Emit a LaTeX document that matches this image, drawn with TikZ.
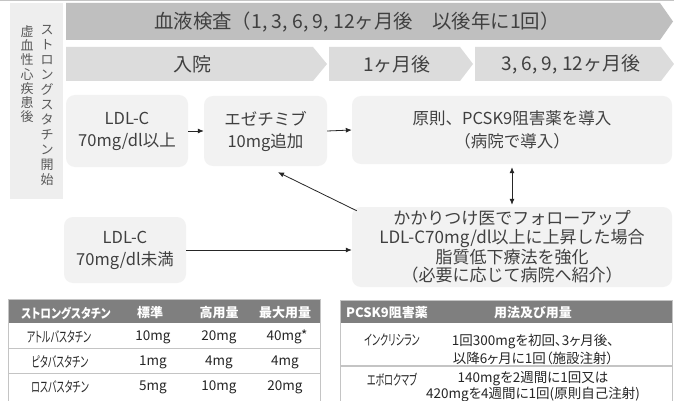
\documentclass[tikz,border=0pt]{standalone}
\usepackage{fontspec}
\setmainfont{Noto Sans CJK JP}
\newfontfamily\tbfont[RawFeature=+palt]{Noto Sans CJK JP}
\newfontfamily\narrowfont[RawFeature=+palt,FakeStretch=0.62]{Noto Sans CJK JP}
\newfontfamily\hnarrowfont[RawFeature=+palt,FakeStretch=0.82]{Noto Sans CJK JP}
\usetikzlibrary{arrows.meta}
\definecolor{txt}{HTML}{404040}
\definecolor{vtxt}{HTML}{595959}
\definecolor{chevdark}{HTML}{BFBFBF}
\definecolor{chevlight}{HTML}{DCDCDC}
\definecolor{boxgray}{HTML}{F2F2F2}
\definecolor{sidegray}{HTML}{EEEEEE}
\definecolor{hdrgray}{HTML}{7F7F7F}
\definecolor{linegray}{HTML}{C4C4C4}
\definecolor{tbtxt}{HTML}{262626}
\tikzset{
  box/.style={fill=boxgray, rounded corners=9pt, text=txt, align=center, inner sep=0pt,
    font=\fontsize{16.5}{22}\selectfont},
  arr/.style={-{Latex[length=6pt,width=5pt]}, line width=0.8pt, draw=black!85},
  dblarr/.style={{Latex[length=6pt,width=5pt]}-{Latex[length=6pt,width=5pt]}, line width=0.8pt, draw=black!85},
  chevtext/.style={text=txt, font=\fontsize{19}{22}\selectfont, inner sep=0pt},
  vtext/.style={text=vtxt, align=center, inner sep=0pt, anchor=north},
  hdr/.style={text=white, font=\tbfont\bfseries\fontsize{13}{16}\selectfont, inner sep=0pt},
  cell/.style={text=tbtxt, font=\tbfont\fontsize{13.5}{16}\selectfont, inner sep=0pt, align=center},
  kcell/.style={text=tbtxt, font=\narrowfont\fontsize{14.5}{16}\selectfont, inner sep=0pt},
  tline/.style={draw=linegray, line width=1.4pt}
}
\begin{document}
\begin{tikzpicture}[x=1pt,y=-1pt]
\useasboundingbox (0,0) rectangle (674,401);
\clip (0,0) rectangle (674,401);
\fill[white] (0,0) rectangle (674,401);
\draw[draw=linegray, line width=1pt] (0,0.5) -- (674,0.5);

% left side box
\fill[sidegray] (10,3) rectangle (63,199);
\node[vtext, font=\fontsize{13}{15}\selectfont] (v1) at (47,25) {ス\\ト\\ロ\\ン\\グ\\ス\\タ\\チ\\ン\\開\\始};
\node[vtext, font=\fontsize{13}{14.3}\selectfont] (v2) at (27,25) {虚\\血\\性\\心\\疾\\患\\後};

% top chevron
\fill[chevdark] (66,3) -- (660,3) -- (673,21.5) -- (660,40) -- (66,40) -- cycle;
\node[text=txt, font=\fontsize{19.4}{22}\selectfont, inner sep=0pt] (title) at (357,22) {血液検査（1, 3, 6, 9, 12ヶ月後　以後年に1回）};

% second row chevrons
\fill[chevlight] (66,47) -- (313,47) -- (327,64) -- (313,81) -- (66,81) -- cycle;
\fill[chevlight] (329,47) -- (460,47) -- (473,64) -- (460,81) -- (329,81) -- cycle;
\fill[chevlight] (475,47) -- (661,47) -- (674,64) -- (661,81) -- (475,81) -- cycle;
\node[chevtext] (c1) at (192,64) {入院};
\node[chevtext] (c2) at (397,64) {1ヶ月後};
\node[chevtext] (c3) at (571,64) {3, 6, 9, 12ヶ月後};

% boxes
\node[box, minimum width=122pt, minimum height=72pt] (A) at (127,131) {LDL-C\\70mg/dl以上};
\node[box, minimum width=123pt, minimum height=70pt] (B) at (265.5,131) {エゼチミブ\\10mg追加};
\node[box, minimum width=320pt, minimum height=68pt, font=\fontsize{16.5}{23}\selectfont] (C) at (512,130) {原則、PCSK9阻害薬を導入\\（病院で導入）};
\node[box, minimum width=320pt, minimum height=80pt, font=\fontsize{17}{18.5}\selectfont] (D) at (512,247) {かかりつけ医でフォローアップ\\LDL-C70mg/dl以上に上昇した場合\\脂質低下療法を強化\\（必要に応じて病院へ紹介）};
\node[box, minimum width=122pt, minimum height=66pt] (E) at (125,250) {LDL-C\\70mg/dl未満};

% connectors
\draw[arr] (A.east) -- (B.west);
\draw[arr] (B.east) -- (C.west);
\draw[dblarr] ([yshift=-3pt]C.south) -- ([yshift=2pt]D.north);
\draw[arr] ([xshift=5pt,yshift=-4pt]D.north west) -- ([xshift=12.5pt,yshift=-6pt]B.south);
\draw[arr] (E.east) -- (E.east -| D.west);

% left table
\fill[hdrgray] (8,300) rectangle (320,323);
\draw[draw=linegray, line width=1pt] (8,299) rectangle (320,420);
\draw[tline] (8,348.5) -- (320,348.5);
\draw[tline] (8,373.5) -- (320,373.5);
\node[hdr, font=\hnarrowfont\bfseries\fontsize{13}{16}\selectfont] (h1) at (66,313) {ストロングスタチン};
\node[hdr] (h2) at (150,313) {標準};
\node[hdr] (h3) at (219,313) {高用量};
\node[hdr] (h4) at (285,313) {最大用量};
\node[kcell] (r11) at (59,337) {アトルバスタチン};
\node[cell] (r12) at (153,337) {10mg};
\node[cell] (r13) at (219,337) {20mg};
\node[cell] (r14) at (287,337) {40mg*};
\node[kcell] (r21) at (60,362) {ピタバスタチン};
\node[cell] (r22) at (153,362) {1mg};
\node[cell] (r23) at (219,362) {4mg};
\node[cell] (r24) at (285,362) {4mg};
\node[kcell] (r31) at (60,387) {ロスバスタチン};
\node[cell] (r32) at (153,387) {5mg};
\node[cell] (r33) at (219,387) {10mg};
\node[cell] (r34) at (285,387) {20mg};

% right table
\fill[hdrgray] (340,301) rectangle (672,323);
\draw[draw=linegray, line width=1pt] (340,300) rectangle (672,420);
\draw[tline] (340,366) -- (672,366);
\node[hdr] (p1) at (387,313) {PCSK9阻害薬};
\node[hdr] (p2) at (533,313) {用法及び用量};
\node[kcell] (q11) at (392,340) {インクリシラン};
\node[cell, font=\tbfont\fontsize{13.5}{18}\selectfont] (q12) at (533,349) {1回300mgを初回、3ヶ月後、\\以降6ヶ月に1回（施設注射）};
\node[kcell] (q21) at (392,380) {エボロクマブ};
\node[cell, font=\tbfont\fontsize{13.5}{14.5}\selectfont] (q22) at (533,387) {140mgを2週間に1回又は\\420mgを4週間に1回(原則自己注射)};
\end{tikzpicture}
\end{document}
